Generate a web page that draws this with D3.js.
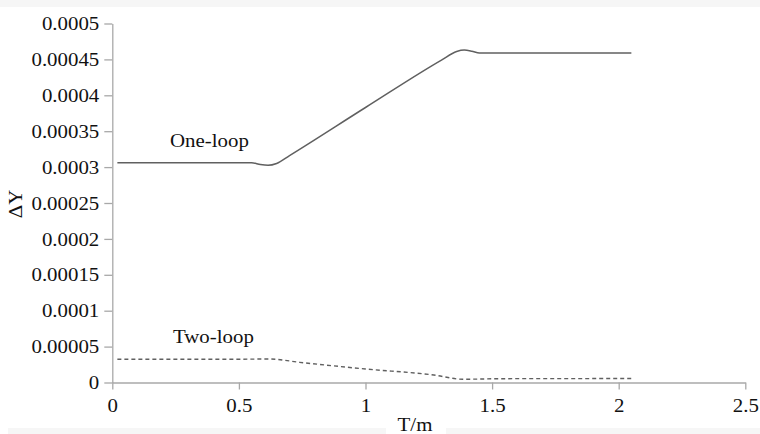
<!DOCTYPE html>
<html>
<head>
<meta charset="utf-8">
<script src="https://cdn.jsdelivr.net/npm/d3@7"></script>
<style>
  body { margin: 0; background: #fff; }
  text { font-family: "Liberation Serif", "DejaVu Serif", serif; fill: #111; }
</style>
</head>
<body>
<div id="chart"></div>
<script>
// Data
const oneLoopT = [0.02, 0.3, 0.55, 0.585, 0.615, 0.649, 0.7, 1.0, 1.3, 1.36, 1.39, 1.42, 1.45, 1.7, 2.05];
const oneLoopY = [0.000306, 0.000306, 0.000306, 0.0003035, 0.0003025, 0.000305, 0.000316, 0.000383, 0.000449, 0.000461, 0.000463, 0.0004615, 0.000459, 0.000459, 0.000459];
const twoLoopT = [0.02, 0.3, 0.5, 0.62, 0.74, 1.0, 1.27, 1.385, 1.53, 2.05];
const twoLoopY = [0.0000323, 0.0000323, 0.0000324, 0.0000328, 0.0000281, 0.0000188, 0.0000104, 0.0000045, 0.0000053, 0.0000055];
const xTicks = [0, 0.5, 1, 1.5, 2, 2.5];
const yTicks = [0, 0.00005, 0.0001, 0.00015, 0.0002, 0.00025, 0.0003, 0.00035, 0.0004, 0.00045, 0.0005];
const yTickLabels = ["0", "0.00005", "0.0001", "0.00015", "0.0002", "0.00025", "0.0003", "0.00035", "0.0004", "0.00045", "0.0005"];

const W = 760, H = 434;
const sx = 1.16; // glyphs in the picture look stretched sideways

const svg = d3.select("#chart").append("svg")
  .attr("width", W)
  .attr("height", H);

// faint scan bands at top and bottom
svg.append("rect").attr("x", 0).attr("y", 0).attr("width", W).attr("height", 7).attr("fill", "#f6f6f6");
svg.append("rect").attr("x", 8).attr("y", 428).attr("width", 378).attr("height", 6).attr("fill", "#f6f6f6");
svg.append("rect").attr("x", 446).attr("y", 428).attr("width", W - 446).attr("height", 6).attr("fill", "#f6f6f6");

const x = d3.scaleLinear().domain([0, 2.5]).range([112.3, 745.3]);
const y = d3.scaleLinear().domain([0, 0.0005]).range([382.5, 23.5]);

// axes
const xAxis = svg.append("g")
  .attr("transform", `translate(0,${y(0)})`)
  .call(d3.axisBottom(x).tickValues(xTicks).tickSize(7).tickSizeOuter(0).tickFormat(d3.format("")));
const yAxis = svg.append("g")
  .attr("transform", `translate(${x(0)},0)`)
  .call(d3.axisLeft(y).tickValues(yTicks).tickSize(8).tickSizeOuter(0).tickFormat((d, i) => yTickLabels[i]));

for (let ax of [xAxis, yAxis]) {
  ax.select(".domain").attr("stroke", "#a8a8a8").attr("stroke-width", 1.3);
  ax.selectAll(".tick line").attr("stroke", "#a8a8a8").attr("stroke-width", 1.3);
  ax.selectAll(".tick text").attr("font-size", 18).attr("fill", "#111")
    .attr("font-family", '"Liberation Serif", serif');
}
xAxis.selectAll(".tick text").attr("y", 0).attr("dy", 0)
  .attr("transform", `translate(0,29) scale(${sx},1)`);
yAxis.selectAll(".tick text").attr("x", 0).attr("dy", "0.34em")
  .attr("transform", `translate(-13,0) scale(${sx},1)`);

// lines
const line = d3.line().curve(d3.curveMonotoneX);

svg.append("path")
  .datum(oneLoopT.map((t, i) => [x(t), y(oneLoopY[i])]))
  .attr("d", line)
  .attr("fill", "none")
  .attr("stroke", "#606060")
  .attr("stroke-width", 1.5);

svg.append("path")
  .datum(twoLoopT.map((t, i) => [x(t), y(twoLoopY[i])]))
  .attr("d", line)
  .attr("fill", "none")
  .attr("stroke", "#606060")
  .attr("stroke-width", 1.4)
  .attr("stroke-dasharray", "4,3");

// labels
function label(txt, px, py, anchor, rot) {
  svg.append("text")
    .attr("transform", `translate(${px},${py})` + (rot ? ` rotate(${rot})` : "") + ` scale(${sx},1)`)
    .attr("text-anchor", anchor)
    .attr("font-size", 18)
    .text(txt);
}
label("One-loop", 170, 146.5, "start");
label("Two-loop", 173, 343, "start");
label("T/m", 415, 431, "middle");
label("ΔY", 22, 204, "middle", -90);
</script>
</body>
</html>
